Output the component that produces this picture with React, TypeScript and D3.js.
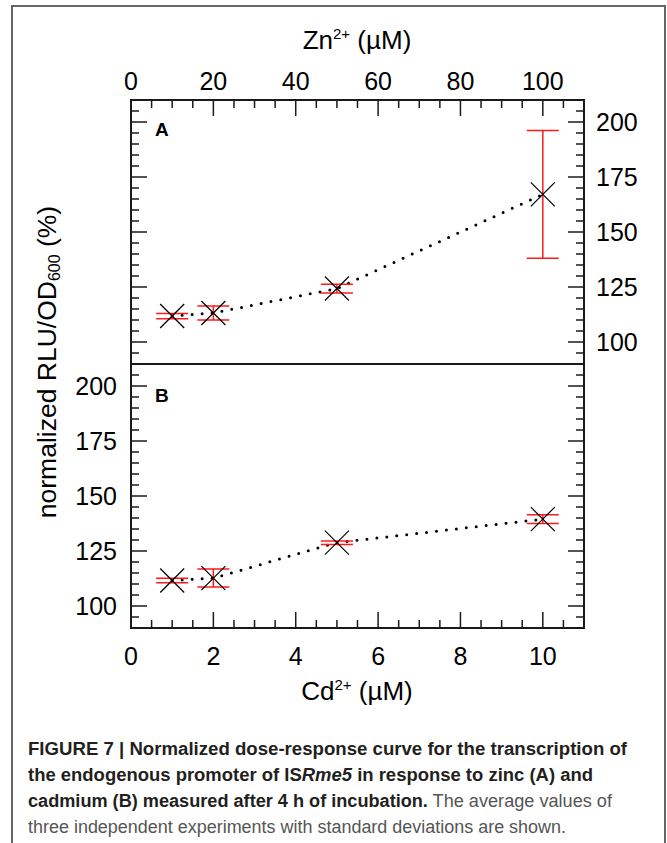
import React from "react";
import * as d3 from "d3";

// ---- data ----
const znConc = [10, 20, 50, 100];
const znMean = [111.8, 113.2, 124.3, 167.1];
const znSd = [1.2, 3.2, 2.0, 29.0];

const cdConc = [1, 2, 5, 10];
const cdMean = [111.6, 112.7, 128.8, 139.5];
const cdSd = [1.0, 4.1, 0.8, 2.0];

const znTickLabels = [0, 20, 40, 60, 80, 100];
const cdTickLabels = [0, 2, 4, 6, 8, 10];
const yTickLabels = [100, 125, 150, 175, 200];

const W = 667;
const H = 843;
const L = 131, R = 584, T = 100, M = 364, B = 628;
const FONT = "'Liberation Sans', Arial, Helvetica, sans-serif";
const AX = "#1a1a1a";

export default function App() {
  const xCd = d3.scaleLinear().domain([0, 11]).range([L, R]);
  const xZn = d3.scaleLinear().domain([0, 110]).range([L, R]);
  const yA = d3.scaleLinear().domain([90, 210]).range([M, T]);
  const yB = d3.scaleLinear().domain([90, 210]).range([B, M]);

  const znMinor = d3.range(5, 110, 5);
  const cdMinor = d3.range(0.5, 11, 0.5);
  const yMinor = d3.range(95, 210, 5);

  const dotted = (xs: number[], ys: number[], xs_: any, ys_: any) =>
    d3.line<number>().x((_, i) => xs_(xs[i])).y((_, i) => ys_(ys[i]))(xs.map((_, i) => i)) || "";

  const panel = (
    key: string,
    xs: number[],
    means: number[],
    sds: number[],
    xsc: any,
    ysc: any
  ) => (
    <g key={key}>
      <path
        d={dotted(xs, means, xsc, ysc)}
        fill="none"
        stroke="#000"
        strokeWidth={3}
        strokeLinecap="round"
        strokeDasharray="0 10"
      />
      {xs.map((c, i) => {
        const cx = xsc(c);
        const cy = ysc(means[i]);
        const y1 = ysc(means[i] + sds[i]);
        const y2 = ysc(means[i] - sds[i]);
        return (
          <g key={i}>
            <g stroke="#ff1a1a" strokeWidth={1.5}>
              <line x1={cx} x2={cx} y1={y1} y2={y2} />
              <line x1={cx - 16} x2={cx + 16} y1={y1} y2={y1} />
              <line x1={cx - 16} x2={cx + 16} y1={y2} y2={y2} />
            </g>
            <g stroke="#000" strokeWidth={1.2}>
              <line x1={cx - 12} x2={cx + 12} y1={cy - 12} y2={cy + 12} />
              <line x1={cx - 12} x2={cx + 12} y1={cy + 12} y2={cy - 12} />
            </g>
          </g>
        );
      })}
    </g>
  );

  const yTicks = (ysc: any, k: string) =>
    yMinor.map((v) => {
      const len = v % 25 === 0 ? 16 : 8;
      const y = ysc(v);
      return (
        <g key={k + v}>
          <line x1={L} x2={L + len} y1={y} y2={y} />
          <line x1={R} x2={R - len} y1={y} y2={y} />
        </g>
      );
    });

  return (
    <div style={{ position: "absolute", left: 0, top: 0 }}>
      <svg width={W} height={H} style={{ display: "block", background: "#fff" }} fontFamily={FONT}>
        <rect x={0} y={0} width={W} height={H} fill="#fff" />
        {/* outer frame */}
        <path d={`M12,${H + 5} L12,6 L665,6 L665,${H + 5}`} fill="none" stroke="#666" strokeWidth={2} />

        {/* ticks */}
        <g stroke={AX} strokeWidth={1.5}>
          {znMinor.map((v) => (
            <line key={"zt" + v} x1={xZn(v)} x2={xZn(v)} y1={T} y2={T + (v % 20 === 0 ? 16 : 8)} />
          ))}
          {cdMinor.map((v) => (
            <line key={"ct" + v} x1={xCd(v)} x2={xCd(v)} y1={B} y2={B - (v % 2 === 0 ? 16 : 8)} />
          ))}
          {yTicks(yA, "a")}
          {yTicks(yB, "b")}
        </g>

        {/* boxes */}
        <g fill="none" stroke={AX} strokeWidth={2}>
          <rect x={L} y={T} width={R - L} height={B - T} />
          <line x1={L} x2={R} y1={M} y2={M} />
        </g>

        {panel("A", znConc, znMean, znSd, xZn, yA)}
        {panel("B", cdConc, cdMean, cdSd, xCd, yB)}

        {/* panel letters */}
        <text x={155} y={136} fontSize={19} fontWeight="bold" fill="#000">A</text>
        <text x={155} y={402} fontSize={19} fontWeight="bold" fill="#000">B</text>

        {/* tick labels */}
        <g fontSize={25} fill="#000">
          {znTickLabels.map((v) => (
            <text key={"zl" + v} x={xZn(v)} y={90} textAnchor="middle">{v}</text>
          ))}
          {cdTickLabels.map((v) => (
            <text key={"cl" + v} x={xCd(v)} y={665} textAnchor="middle">{v}</text>
          ))}
          {yTickLabels.map((v) => (
            <text key={"ra" + v} x={596} y={yA(v)} dy="0.35em" textAnchor="start">{v}</text>
          ))}
          {yTickLabels.map((v) => (
            <text key={"lb" + v} x={117} y={yB(v)} dy="0.35em" textAnchor="end">{v}</text>
          ))}
        </g>

        {/* axis titles */}
        <text x={357} y={49} fontSize={26} textAnchor="middle" fill="#000">
          Zn<tspan fontSize={15} dy={-10}>2+</tspan>
          <tspan dy={10}> (µM)</tspan>
        </text>
        <text x={357} y={700} fontSize={26} textAnchor="middle" fill="#000">
          Cd<tspan fontSize={15} dy={-10}>2+</tspan>
          <tspan dy={10}> (µM)</tspan>
        </text>
        <text
          transform="translate(56,362) rotate(-90)"
          fontSize={26.5}
          textAnchor="middle"
          fill="#000"
        >
          normalized RLU/OD<tspan fontSize={16} dy={4}>600</tspan>
          <tspan dy={-4}> (%)</tspan>
        </text>

        {/* caption */}
        <g fontSize={17.5}>
          <text x={28} y={755} textLength={599} lengthAdjust="spacingAndGlyphs" fontWeight="bold" fill="#231f20">
            FIGURE 7 | Normalized dose-response curve for the transcription of
          </text>
          <text x={28} y={781} textLength={565} lengthAdjust="spacingAndGlyphs" fontWeight="bold" fill="#231f20">
            the endogenous promoter of IS<tspan fontStyle="italic">Rme5</tspan> in response to zinc (A) and
          </text>
          <text x={28} y={807} textLength={584} lengthAdjust="spacingAndGlyphs" fill="#231f20">
            <tspan fontWeight="bold">cadmium (B) measured after 4 h of incubation.</tspan>
            <tspan fill="#555"> The average values of</tspan>
          </text>
          <text x={28} y={833} textLength={538} lengthAdjust="spacingAndGlyphs" fill="#555">
            three independent experiments with standard deviations are shown.
          </text>
        </g>
      </svg>
    </div>
  );
}
